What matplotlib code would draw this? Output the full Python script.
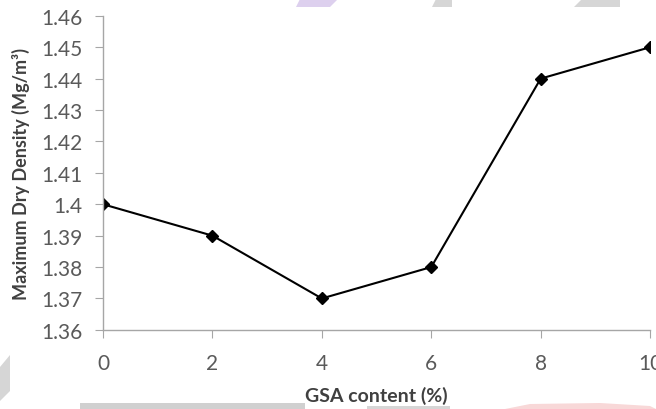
import matplotlib.pyplot as plt
from matplotlib.patches import Polygon

plt.rcParams['font.family'] = ['Lato', 'DejaVu Sans']

gsa = [0, 2, 4, 6, 8, 10]
mdd = [1.40, 1.39, 1.37, 1.38, 1.44, 1.45]
yticks = [1.36, 1.37, 1.38, 1.39, 1.40, 1.41, 1.42, 1.43, 1.44, 1.45, 1.46]
ylabels = ['1.36', '1.37', '1.38', '1.39', '1.4', '1.41', '1.42', '1.43', '1.44', '1.45', '1.46']

W, H = 656, 410
fig = plt.figure(figsize=(W / 100, H / 100), dpi=100)


def px_poly(pts, color):
    # polygon given in pixel coords from the top-left corner
    verts = [[x / W, 1 - y / H] for x, y in pts]
    fig.patches.append(Polygon(verts, closed=True, transform=fig.transFigure,
                               color=color, zorder=0, linewidth=0))


# faint background shapes behind the plot
px_poly([(582, 0), (620, 0), (620, 8), (574, 8)], '#d6d6d6')
px_poly([(436, 0), (452, 0), (452, 8), (432, 8)], '#d6d6d6')
px_poly([(300, 0), (338, 0), (330, 8), (296, 8)], '#ddd0ee')
px_poly([(80, 404), (305, 404), (305, 410), (80, 410)], '#d0d0d0')
px_poly([(367, 407), (450, 407), (450, 410), (367, 410)], '#d6d6d6')
px_poly([(0, 368), (10, 356), (10, 392), (0, 402)], '#d6d6d6')
px_poly([(505, 410), (530, 405), (600, 404), (650, 407), (656, 410)], '#f8d8d8')

ax = fig.add_axes([0.157, 0.193, 0.834, 0.766])
ax.patch.set_alpha(0)
ax.plot(gsa, mdd, color='black', linewidth=1.5, marker='D', markersize=6.5)

ax.set_xlim(0, 10)
ax.set_ylim(1.36, 1.46)
ax.set_xticks(gsa)
ax.set_yticks(yticks)
ax.set_yticklabels(ylabels)

for side in ['top', 'right']:
    ax.spines[side].set_visible(False)
for side in ['left', 'bottom']:
    ax.spines[side].set_color('#a6a6a6')
    ax.spines[side].set_linewidth(1.0)

ax.tick_params(axis='both', colors='#a6a6a6', labelcolor='#5a5a5a', labelsize=15,
               length=6, direction='out')
ax.tick_params(axis='x', pad=11)
ax.tick_params(axis='y', pad=9)
for lab in ax.get_xticklabels():
    lab.set_clip_on(False)

ax.set_xlabel('GSA content (%)', fontsize=14, fontweight='bold', color='#404040', labelpad=9)
ax.set_ylabel('Maximum Dry Density (Mg/m³)', fontsize=13, fontweight='bold',
              color='#404040', labelpad=8)

fig.savefig('out.png', dpi=100)
